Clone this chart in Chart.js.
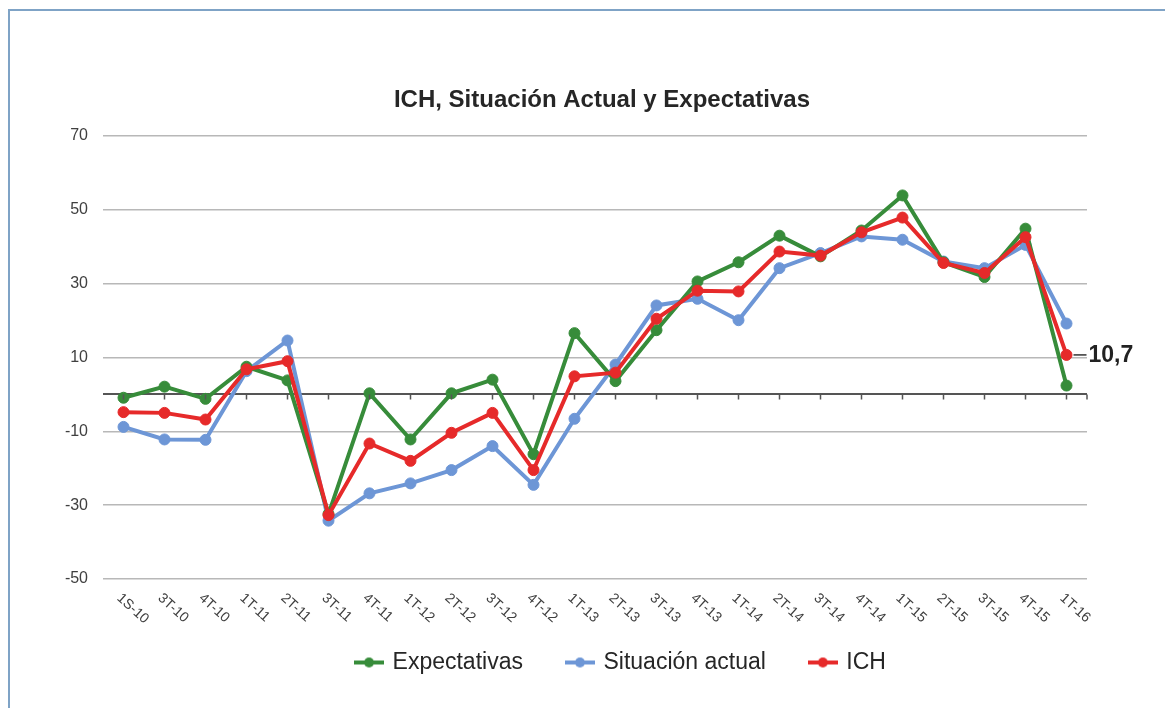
<!DOCTYPE html>
<html>
<head>
<meta charset="utf-8">
<script src="https://cdn.jsdelivr.net/npm/chart.js@4.4.1/dist/chart.umd.min.js"></script>
<style>
  html, body { margin: 0; padding: 0; background: #fff; }
  #wrap { position: relative; width: 1165px; height: 708px; overflow: hidden; }
  #frame { position: absolute; left: 8px; top: 9px; width: 1200px; height: 750px; border: 2px solid #7fa3c6; pointer-events: none; }
  canvas { position: absolute; left: 0; top: 0; }
</style>
</head>
<body>
<div id="wrap">
  <canvas id="ichChart" width="1165" height="708"></canvas>
  <div id="frame"></div>
</div>
<script>
const titulo = 'ICH, Situación Actual y Expectativas';

const periodos = ['1S-10', '3T-10', '4T-10', '1T-11', '2T-11', '3T-11', '4T-11', '1T-12',
  '2T-12', '3T-12', '4T-12', '1T-13', '2T-13', '3T-13', '4T-13', '1T-14',
  '2T-14', '3T-14', '4T-14', '1T-15', '2T-15', '3T-15', '4T-15', '1T-16'];

const expectativas = [-0.9, 2.1, -1.2, 7.5, 3.8, -32.4, 0.3, -12.2, 0.3, 4.0, -16.2, 16.6,
  3.6, 17.4, 30.6, 35.8, 43.0, 37.4, 44.4, 53.9, 35.8, 31.8, 44.9, 2.4];

const situacionActual = [-8.8, -12.2, -12.3, 6.3, 14.6, -34.2, -26.8, -24.1, -20.5, -14.0, -24.5, -6.6,
  8.1, 24.1, 25.9, 20.1, 34.2, 38.3, 42.8, 41.9, 36.0, 34.2, 40.5, 19.2];

const ich = [-4.8, -5.0, -6.8, 6.8, 9.0, -32.7, -13.3, -18.0, -10.4, -5.0, -20.5, 4.9,
  5.9, 20.5, 28.1, 27.9, 38.7, 37.6, 43.9, 47.9, 35.6, 32.9, 42.6, 10.7];

const ticksY = [-50, -30, -10, 0, 10, 30, 50, 70];

const colores = ['#378c3a', '#6d96d6', '#e62a2a'];
const fuente = '"Liberation Sans", Arial, sans-serif';

// marcador de leyenda: linea con punto
function marcador(color) {
  const c = document.createElement('canvas');
  c.width = 30; c.height = 14;
  const g = c.getContext('2d');
  g.strokeStyle = color; g.lineWidth = 4;
  g.beginPath(); g.moveTo(0, 7); g.lineTo(30, 7); g.stroke();
  g.fillStyle = color;
  g.beginPath(); g.arc(15, 7, 5, 0, Math.PI * 2); g.fill();
  return c;
}
const marcadores = colores.map(marcador);

const extras = {
  id: 'extras',
  afterDraw(chart) {
    const { ctx, chartArea } = chart;
    const x = chart.scales.x, y = chart.scales.y;
    ctx.save();

    // titulo
    ctx.font = 'bold 24px ' + fuente;
    ctx.fillStyle = '#262626';
    ctx.textAlign = 'center';
    ctx.textBaseline = 'alphabetic';
    ctx.fillText(titulo, 602, 107);

    // marcas sobre la linea de cero
    const y0 = y.getPixelForValue(0);
    ctx.strokeStyle = '#555';
    ctx.lineWidth = 1.5;
    ctx.beginPath();
    periodos.forEach((p, i) => {
      const px = x.getPixelForValue(i);
      ctx.moveTo(px, y0); ctx.lineTo(px, y0 + 5);
    });
    ctx.moveTo(chartArea.right, y0); ctx.lineTo(chartArea.right, y0 + 5);
    ctx.stroke();

    // etiquetas del eje x giradas
    ctx.font = '14px ' + fuente;
    ctx.fillStyle = '#404040';
    ctx.textAlign = 'left';
    ctx.textBaseline = 'top';
    periodos.forEach((p, i) => {
      ctx.save();
      ctx.translate(x.getPixelForValue(i), chartArea.bottom + 12);
      ctx.rotate(42 * Math.PI / 180);
      ctx.fillText(p, 0, 0);
      ctx.restore();
    });

    // etiqueta del ultimo ICH
    const last = ich.length - 1;
    const px = x.getPixelForValue(last), py = y.getPixelForValue(ich[last]);
    ctx.strokeStyle = '#333';
    ctx.beginPath(); ctx.moveTo(px + 7, py); ctx.lineTo(px + 20, py); ctx.stroke();
    ctx.font = 'bold 23px ' + fuente;
    ctx.fillStyle = '#222';
    ctx.textBaseline = 'middle';
    ctx.fillText(String(ich[last]).replace('.', ','), px + 22, py + 1);

    ctx.restore();
  }
};

function serie(label, data, i, order) {
  return {
    label: label,
    data: data,
    order: order,
    borderColor: colores[i],
    backgroundColor: colores[i],
    borderWidth: 4,
    pointRadius: 5.5,
    pointBackgroundColor: colores[i],
    pointBorderColor: colores[i],
    pointBorderWidth: 1,
    tension: 0
  };
}

Chart.defaults.font.family = fuente;

new Chart(document.getElementById('ichChart'), {
  type: 'line',
  data: {
    labels: periodos,
    datasets: [
      serie('Expectativas', expectativas, 0, 1),
      serie('Situación actual', situacionActual, 1, 2),
      serie('ICH', ich, 2, 0)
    ]
  },
  options: {
    responsive: false,
    animation: false,
    devicePixelRatio: 1,
    // padding derecho negativo para centrar la leyenda como en el original
    layout: { padding: { top: 136, left: 40, right: -38, bottom: 24 } },
    scales: {
      x: {
        offset: true,
        ticks: { display: false },
        grid: { display: false },
        border: { display: false },
        afterFit: s => { s.height = 27; }
      },
      y: {
        min: -50,
        max: 70,
        afterBuildTicks: s => { s.ticks = ticksY.map(v => ({ value: v })); },
        afterFit: s => { s.width = 63; },
        ticks: {
          padding: 15,
          color: '#404040',
          font: { size: 16 },
          callback: v => (v === 0 ? '' : v)
        },
        grid: {
          drawTicks: false,
          color: c => (c.tick && c.tick.value === 0 ? '#555555' : '#b8b8b8'),
          lineWidth: c => (c.tick && c.tick.value === 0 ? 2 : 1.5)
        },
        border: { display: false }
      },
      yDer: {
        type: 'linear',
        position: 'right',
        ticks: { display: false },
        grid: { display: false },
        border: { display: false },
        afterFit: s => { s.width = 116; }
      }
    },
    plugins: {
      title: { display: false },
      tooltip: { enabled: false },
      legend: {
        position: 'bottom',
        labels: {
          usePointStyle: true,
          pointStyleWidth: 24,
          padding: 45,
          color: '#262626',
          font: { size: 23 },
          sort: (a, b) => a.datasetIndex - b.datasetIndex,
          generateLabels(chart) {
            const items = Chart.defaults.plugins.legend.labels.generateLabels(chart);
            items.forEach(it => { it.pointStyle = marcadores[it.datasetIndex]; });
            return items;
          }
        }
      }
    }
  },
  plugins: [extras]
});
</script>
</body>
</html>
